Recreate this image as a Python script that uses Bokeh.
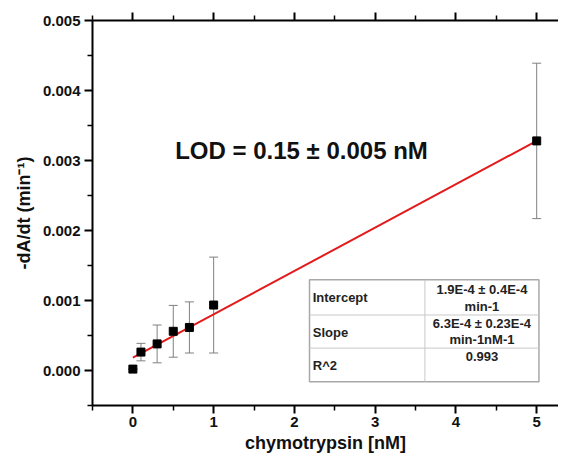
from bokeh.plotting import figure
from bokeh.models import (ColumnDataSource, Whisker, TeeHead, FixedTicker, LinearAxis,
                          NumeralTickFormatter, Range1d)
from bokeh.embed import file_html
from bokeh.resources import INLINE
from bokeh.core.properties import value

# ---- data ----
conc = [0.0, 0.1, 0.3, 0.5, 0.7, 1.0, 5.0]
rate = [0.00002, 0.000263, 0.00038, 0.00056, 0.000615, 0.000935, 0.00328]
rate_err = [0.0, 0.000125, 0.00027, 0.00037, 0.000365, 0.000685, 0.00111]

fit_x = [0.0, 5.0]
fit_y = [0.000183, 0.00328]

x_ticks = [0, 1, 2, 3, 4, 5]
x_minor = [-0.5, 0.5, 1.5, 2.5, 3.5, 4.5, 5.5]
y_ticks = [0.0, 0.001, 0.002, 0.003, 0.004, 0.005]
y_minor = [-0.0005, 0.0005, 0.0015, 0.0025, 0.0035, 0.0045]

lod_text = "LOD = 0.15 \u00b1 0.005 nM"
table_names = ["Intercept", "Slope", "R^2"]
table_values = ["1.9E-4 \u00b1 0.4E-4", "min-1",
                "6.3E-4 \u00b1 0.23E-4", "min-1nM-1",
                "0.993"]

FONT = "Liberation Sans"

p = figure(width=558, height=459,
           x_range=Range1d(-0.5, 5.27), y_range=Range1d(-0.0005, 0.005),
           output_backend="svg", toolbar_location=None,
           min_border_left=92, min_border_right=0, min_border_top=20, min_border_bottom=54)
p.xgrid.visible = False
p.ygrid.visible = False
p.outline_line_color = None
p.background_fill_color = "white"
p.border_fill_color = "white"

bottom = p.below[0]
left = p.left[0]

bottom.ticker = FixedTicker(ticks=x_ticks, minor_ticks=x_minor)
left.ticker = FixedTicker(ticks=y_ticks, minor_ticks=y_minor)
left.formatter = NumeralTickFormatter(format="0.000")
bottom.axis_label = "chymotrypsin [nM]"
left.axis_label = "-dA/dt (min\u207b\u00b9)"

top = LinearAxis(ticker=FixedTicker(ticks=x_ticks, minor_ticks=x_minor))
p.add_layout(top, "above")

for ax in [bottom, left, top]:
    ax.axis_line_width = 2
    ax.axis_line_color = "black"
    ax.major_tick_line_width = 2
    ax.minor_tick_line_width = 1.5
    ax.major_tick_out = 8
    ax.major_tick_in = 0
    ax.minor_tick_out = 5
    ax.minor_tick_in = 0
    ax.major_label_text_font = FONT
    ax.major_label_text_font_style = "bold"
    ax.major_label_text_font_size = "15px"
    ax.major_label_text_color = "#111111"
    ax.major_label_standoff = 4
    ax.axis_label_text_font = FONT
    ax.axis_label_text_font_style = "bold"
    ax.axis_label_text_font_size = "18px"
    ax.axis_label_text_color = "#111111"
    ax.axis_label_standoff = 6
bottom.major_label_standoff = 3
bottom.axis_label_standoff = 3
top.major_label_overrides = {t: "" for t in x_ticks}
top.major_label_standoff = 0

# ---- fit-result table ----
tx0, tx1, txm = 2.187, 5.028, 3.616
ty0, ty1 = -0.000159, 0.001296
row_lines = [0.000793, 0.000320]
p.quad(left=[tx0], right=[tx1], bottom=[ty0], top=[ty1],
       fill_color="white", line_color="#a8a8a8", line_width=1.5)
p.segment(x0=[txm], x1=[txm], y0=[ty0], y1=[ty1], line_color="#c8c8c8", line_width=1)
p.segment(x0=[tx0, tx0], x1=[tx1, tx1], y0=row_lines, y1=row_lines,
          line_color="#c8c8c8", line_width=1)

name_y = [0.001042, 0.000549, 0.0000746]
p.text(x=[2.227] * 3, y=name_y, text=table_names, text_font=value(FONT),
       text_font_size="13px", text_font_style="bold", text_align="left",
       text_baseline="middle", text_color="#222222")
val_y = [0.001155, 0.000920, 0.000672, 0.000437, 0.000201]
p.text(x=[4.322] * 5, y=val_y, text=table_values, text_font=value(FONT),
       text_font_size="13px", text_font_style="bold", text_align="center",
       text_baseline="middle", text_color="#222222")

# ---- data ----
src = ColumnDataSource(data=dict(
    x=conc, y=rate,
    upper=[r + e for r, e in zip(rate, rate_err)],
    lower=[r - e for r, e in zip(rate, rate_err)]))
w = Whisker(source=src, base="x", upper="upper", lower="lower", dimension="height",
            line_color="#808080", line_width=1, level="underlay",
            upper_head=TeeHead(size=9, line_color="#808080", line_width=1),
            lower_head=TeeHead(size=9, line_color="#808080", line_width=1))
p.add_layout(w)

p.line(fit_x, fit_y, line_color="#e31a1c", line_width=2)
p.scatter("x", "y", source=src, marker="square", size=8, fill_color="black", line_color="black")

p.text(x=[2.088], y=[0.003141], text=[lod_text], text_font=value(FONT),
       text_font_size="24px", text_font_style="bold", text_align="center",
       text_baseline="middle", text_color="#111111")

open("out.html", "w").write(file_html(p, INLINE))
